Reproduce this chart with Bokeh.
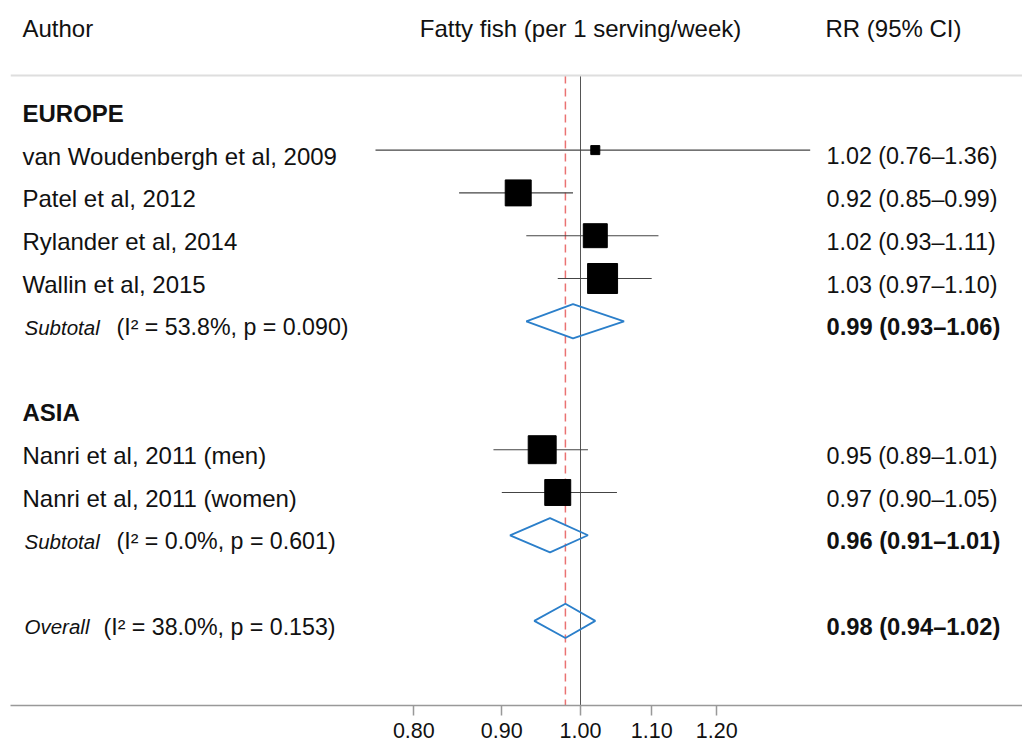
import math

from bokeh.core.properties import value
from bokeh.embed import file_html
from bokeh.models import ColumnDataSource, FixedTicker, PrintfTickFormatter, Range1d, Span
from bokeh.plotting import figure
from bokeh.resources import INLINE

# ---- data -------------------------------------------------------------
studies = [
    "van Woudenbergh et al, 2009",
    "Patel et al, 2012",
    "Rylander et al, 2014",
    "Wallin et al, 2015",
    "Nanri et al, 2011 (men)",
    "Nanri et al, 2011 (women)",
]
study_region = ["EUROPE", "EUROPE", "EUROPE", "EUROPE", "ASIA", "ASIA"]
rr = [1.02, 0.92, 1.02, 1.03, 0.95, 0.97]
rr_lo = [0.76, 0.85, 0.93, 0.97, 0.89, 0.90]
rr_hi = [1.36, 0.99, 1.11, 1.10, 1.01, 1.05]
weight_pct = [2.2, 18.3, 15.6, 24.4, 21.2, 18.3]

regions = ["EUROPE", "ASIA"]
sub_rr = [0.99, 0.96]
sub_lo = [0.93, 0.91]
sub_hi = [1.06, 1.01]
sub_i2 = [53.8, 0.0]
sub_p = [0.090, 0.601]

overall_rr = 0.98
overall_lo = 0.94
overall_hi = 1.02
overall_i2 = 38.0
overall_p = 0.153

tick_values = [0.80, 0.90, 1.00, 1.10, 1.20]

# ---- layout helpers ----------------------------------------------------
W, H = 1022, 749
LEFT_BORDER, BOTTOM_BORDER = 10, 44
PX_PER_LN = 747.0          # horizontal pixels per unit of ln(RR)
X_NULL_PX = 580.0          # canvas x of RR = 1
ROW_PX = 42.8              # vertical pitch of the rows
ROW0_PX = 106.8            # canvas y of the first row's marks
TEXT_DROP = 6.0 / ROW_PX   # row labels sit slightly below the marks
FONT = value("Liberation Sans")


def xpx(px):
    """RR value found at a canvas x position."""
    return math.exp((px - X_NULL_PX) / PX_PER_LN)


def ypx(py):
    """Row value found at a canvas y position."""
    return (py - ROW0_PX) / ROW_PX


frame_h = H - BOTTOM_BORDER
x_start = xpx(LEFT_BORDER)
x_end = xpx(W)
y_top = ypx(0)
y_bottom = ypx(frame_h)

p = figure(
    width=W, height=H,
    x_axis_type="log",
    x_range=Range1d(x_start, x_end),
    y_range=Range1d(y_bottom, y_top),
    output_backend="svg",
    toolbar_location=None,
    y_axis_location=None,
    min_border_left=LEFT_BORDER, min_border_right=0,
    min_border_top=0, min_border_bottom=BOTTOM_BORDER,
)
p.outline_line_color = None
p.xgrid.visible = False
p.ygrid.visible = False
p.background_fill_color = "white"
p.border_fill_color = "white"

# ---- rows ---------------------------------------------------------------
row = 0
study_rows, region_rows, sub_rows = [], [], []
for g in regions:
    region_rows.append(row)
    row += 1
    for r in study_region:
        if r == g:
            study_rows.append(row)
            row += 1
    sub_rows.append(row)
    row += 2
overall_row = sub_rows[-1] + 2

header_row = ypx(28)
rule_row = ypx(75)

# header rule
p.add_layout(Span(location=rule_row, dimension="width",
                  line_color="#dedede", line_width=2))

# reference lines: null effect and pooled estimate
p.segment(x0=[1.0], y0=[rule_row], x1=[1.0], y1=[y_bottom],
          line_color="#555555", line_width=1)
p.segment(x0=[overall_rr], y0=[rule_row], x1=[overall_rr], y1=[y_bottom],
          line_color="#ea7272", line_width=1.5, line_dash="8 5")

# study confidence intervals and weighted boxes
src = ColumnDataSource(dict(
    rr=rr, lo=rr_lo, hi=rr_hi, y=study_rows,
    size=[6.07 * math.sqrt(w) for w in weight_pct],
))
p.segment(x0="lo", y0="y", x1="hi", y1="y", source=src,
          line_color="#444444", line_width=1.1)
p.scatter(x="rr", y="y", size="size", marker="square", source=src,
          fill_color="black", line_color="black")

# pooled diamonds
half_h = 0.4
d_xs, d_ys = [], []
for est, lo, hi, yy in zip(sub_rr + [overall_rr], sub_lo + [overall_lo],
                           sub_hi + [overall_hi], sub_rows + [overall_row]):
    d_xs.append([lo, est, hi, est])
    d_ys.append([yy, yy - half_h, yy, yy + half_h])
p.patches(xs=d_xs, ys=d_ys, fill_color=None, line_color="#2b7fca", line_width=1.8)

# ---- text columns ---------------------------------------------------------
def put(x_px, y, text, size="24px", style="normal", align="left", color="#111111",
        drop=TEXT_DROP):
    p.text(x=[xpx(x_px)] * len(y), y=[v + drop for v in y], text=text,
           text_font=FONT, text_font_size=size, text_font_style=style,
           text_align=align, text_baseline="middle", text_color=color)


put(22, [header_row], ["Author"], drop=0)
put(580, [header_row], ["Fatty fish (per 1 serving/week)"], align="center", drop=0)
put(893, [header_row], ["RR (95% CI)"], align="center", drop=0)

put(22, region_rows, regions, style="bold")
put(22, study_rows, studies)
put(826, study_rows, [f"{a:.2f} ({b:.2f}\u2013{c:.2f})" for a, b, c in zip(rr, rr_lo, rr_hi)],
    size="23.3px")

put(24, sub_rows, ["Subtotal"] * len(sub_rows), size="20.5px", style="italic")
put(116, sub_rows, [f"(I\u00b2 = {a:.1f}%, p = {b:.3f})" for a, b in zip(sub_i2, sub_p)],
    size="23.2px")
put(826, sub_rows, [f"{a:.2f} ({b:.2f}\u2013{c:.2f})" for a, b, c in zip(sub_rr, sub_lo, sub_hi)],
    size="23.7px", style="bold")

put(24, [overall_row], ["Overall"], size="20.5px", style="italic")
put(103, [overall_row], [f"(I\u00b2 = {overall_i2:.1f}%, p = {overall_p:.3f})"], size="23.2px")
put(826, [overall_row], [f"{overall_rr:.2f} ({overall_lo:.2f}\u2013{overall_hi:.2f})"],
    size="23.7px", style="bold")

# ---- axis ---------------------------------------------------------------
ax = p.xaxis[0]
ax.ticker = FixedTicker(ticks=tick_values)
ax.formatter = PrintfTickFormatter(format="%.2f")
ax.axis_line_color = "#999999"
ax.axis_line_width = 1.5
ax.major_tick_line_color = "#999999"
ax.major_tick_line_width = 1.5
ax.major_tick_out = 10
ax.major_tick_in = 0
ax.minor_tick_line_color = None
ax.major_label_text_font = "Liberation Sans"
ax.major_label_text_font_size = "21.5px"
ax.major_label_text_color = "#111111"
ax.major_label_standoff = 7

open("out.html", "w").write(file_html(p, INLINE))
